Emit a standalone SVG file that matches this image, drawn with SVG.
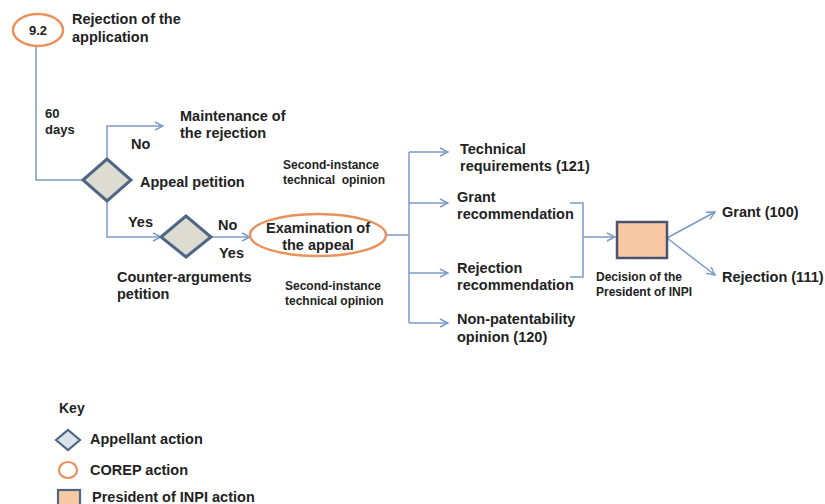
<svg xmlns="http://www.w3.org/2000/svg" width="825" height="504" viewBox="0 0 825 504">
<defs>
<marker id="arr" viewBox="0 0 10 10" refX="9" refY="5" markerWidth="10" markerHeight="10" markerUnits="userSpaceOnUse" orient="auto">
<path d="M1 1 L9 5 L1 9" fill="none" stroke="#7B9AC8" stroke-width="1.4"/>
</marker>
<style>
text{font-family:"Liberation Sans",Arial,sans-serif;font-weight:bold;fill:#222;}
.m{font-size:14.5px;}
.s{font-size:12px;}
.d{font-size:12px;}
.c{stroke:#7B9AC8;stroke-width:1.5;fill:none;}
.dia{fill:#DCDCD0;stroke:#4F6685;stroke-width:3;stroke-linejoin:miter;}
.ell{fill:#fff;stroke:#E8915A;stroke-width:2.5;}
.box{fill:#F8C9A3;stroke:#4A5470;stroke-width:2.5;}
</style>
</defs>
<rect width="825" height="504" fill="#fff"/>
<g id="connectors">
<path class="c" d="M36 47 V180 H83"/>
<path class="c" d="M107 159 V126 H163" marker-end="url(#arr)"/>
<path class="c" d="M107 201 V237 H161" marker-end="url(#arr)"/>
<path class="c" d="M211 237 H250" marker-end="url(#arr)"/>
<path class="c" d="M386 235 H409"/>
<path class="c" d="M409 152 V323"/>
<path class="c" d="M409 152 H448" marker-end="url(#arr)"/>
<path class="c" d="M409 203 H448" marker-end="url(#arr)"/>
<path class="c" d="M409 273 H448" marker-end="url(#arr)"/>
<path class="c" d="M409 323 H448" marker-end="url(#arr)"/>
<path class="c" d="M570 203 H583 V277 H570"/>
<path class="c" d="M583 237 H615" marker-end="url(#arr)"/>
<path class="c" d="M667 238 L715 212" marker-end="url(#arr)"/>
<path class="c" d="M667 238 L715 275" marker-end="url(#arr)"/>
</g>
<g id="n92">
<ellipse class="ell" cx="38" cy="30" rx="25" ry="16"/>
<text x="38" y="35" text-anchor="middle" style="font-size:13px">9.2</text>
<text class="m" x="72" y="24">Rejection of the</text>
<text class="m" x="72" y="42">application</text>
</g>
<g id="days">
<text x="45" y="118" style="font-size:13px">60</text>
<text x="45" y="134" style="font-size:13px">days</text>
</g>
<g id="maintenance">
<text class="m" x="180" y="121">Maintenance of</text>
<text class="m" x="180" y="138">the rejection</text>
<text class="m" x="131" y="149">No</text>
</g>
<g id="appeal">
<polygon class="dia" points="83,180 107,159 131,180 107,201"/>
<text class="m" x="140" y="187">Appeal petition</text>
<text class="m" x="128" y="227">Yes</text>
</g>
<g id="counter">
<polygon class="dia" points="161,237 186,216 211,237 186,257"/>
<text class="m" x="218" y="230">No</text>
<text class="m" x="219" y="258">Yes</text>
<text class="m" x="117" y="282">Counter-arguments</text>
<text class="m" x="117" y="299">petition</text>
</g>
<g id="opinion-top">
<text class="s" x="283" y="169">Second-instance</text>
<text class="s" x="283" y="184" xml:space="preserve">technical  opinion</text>
</g>
<g id="opinion-bottom">
<text class="s" x="285" y="290">Second-instance</text>
<text class="s" x="285" y="305">technical opinion</text>
</g>
<g id="examination">
<ellipse class="ell" cx="318" cy="235" rx="68" ry="21"/>
<text class="m" x="318" y="233" text-anchor="middle">Examination of</text>
<text class="m" x="318" y="250" text-anchor="middle">the appeal</text>
</g>
<g id="technical">
<text class="m" x="460" y="154">Technical</text>
<text class="m" x="460" y="171">requirements (121)</text>
</g>
<g id="grant-rec">
<text class="m" x="457" y="202">Grant</text>
<text class="m" x="457" y="219">recommendation</text>
</g>
<g id="rejection-rec">
<text class="m" x="457" y="273">Rejection</text>
<text class="m" x="457" y="290">recommendation</text>
</g>
<g id="nonpat">
<text class="m" x="457" y="324">Non-patentability</text>
<text class="m" x="457" y="342">opinion (120)</text>
</g>
<g id="president">
<rect class="box" x="617" y="222" width="50" height="36"/>
<text class="d" x="596" y="281">Decision of the</text>
<text class="d" x="596" y="296">President of INPI</text>
</g>
<g id="grant">
<text class="m" x="722" y="217">Grant (100)</text>
</g>
<g id="rejection">
<text class="m" x="722" y="282">Rejection (111)</text>
</g>
<g id="key">
<text x="59" y="413" style="font-size:14px">Key</text>
<polygon points="56,440 68,430 80,440 68,450" fill="#DDE3EA" stroke="#4F6685" stroke-width="2.2"/>
<text class="m" x="90" y="444">Appellant action</text>
<ellipse cx="68" cy="470" rx="9" ry="8" fill="#fff" stroke="#E8915A" stroke-width="2.2"/>
<text class="m" x="90" y="475">COREP action</text>
<rect x="58" y="490" width="22" height="16" fill="#F8C9A3" stroke="#4F6685" stroke-width="2.2"/>
<text class="m" x="92" y="502">President of INPI action</text>
</g>
</svg>
